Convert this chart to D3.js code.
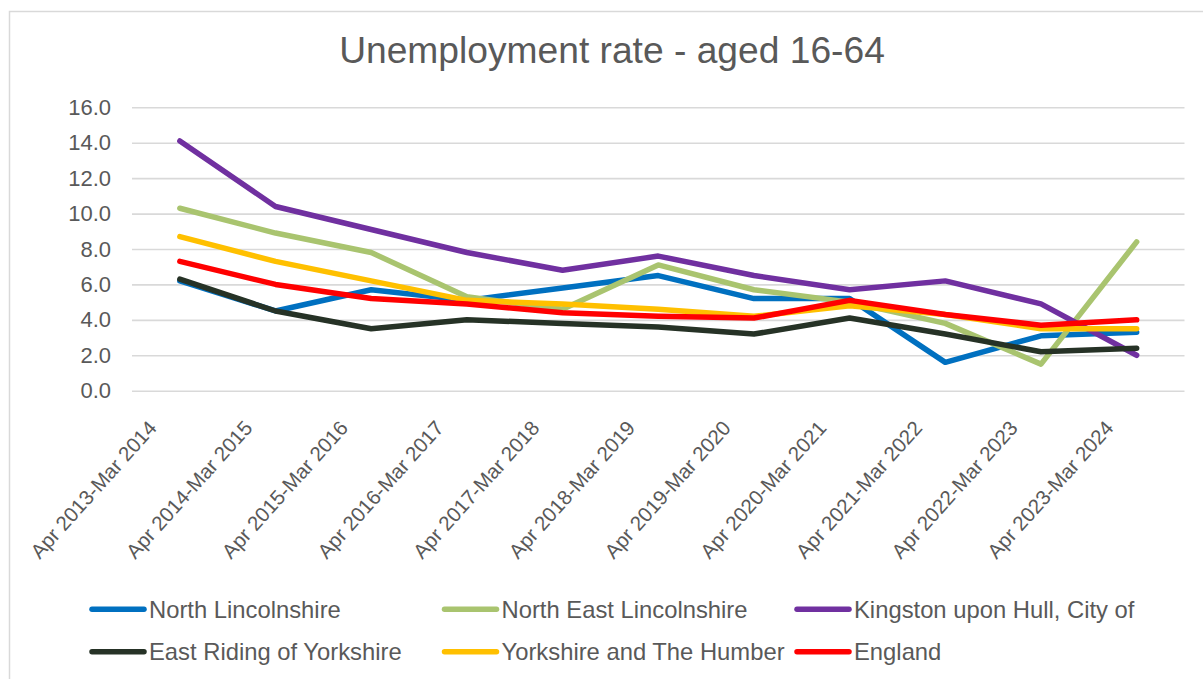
<!DOCTYPE html>
<html>
<head>
<meta charset="utf-8">
<script src="https://cdn.jsdelivr.net/npm/d3@7"></script>
<style>
  html, body { margin: 0; padding: 0; background: #ffffff; }
  svg { display: block; font-family: "Liberation Sans", Arial, sans-serif; }
</style>
</head>
<body>
<svg id="chart" width="1203" height="679"></svg>
<script>
// Periods (x categories)
const periods = [
  "Apr 2013-Mar 2014", "Apr 2014-Mar 2015", "Apr 2015-Mar 2016", "Apr 2016-Mar 2017",
  "Apr 2017-Mar 2018", "Apr 2018-Mar 2019", "Apr 2019-Mar 2020", "Apr 2020-Mar 2021",
  "Apr 2021-Mar 2022", "Apr 2022-Mar 2023", "Apr 2023-Mar 2024"
];

// Unemployment rate (%) aged 16-64, by area
const northLincolnshire    = [6.2, 4.5, 5.7, 5.1, 5.8, 6.5, 5.2, 5.2, 1.6, 3.1, 3.3];
const northEastLincolnshire = [10.3, 8.9, 7.8, 5.3, 4.6, 7.1, 5.7, 5.0, 3.8, 1.5, 8.4];
const kingstonUponHull     = [14.1, 10.4, 9.1, 7.8, 6.8, 7.6, 6.5, 5.7, 6.2, 4.9, 2.0];
const eastRiding           = [6.3, 4.5, 3.5, 4.0, 3.8, 3.6, 3.2, 4.1, 3.2, 2.2, 2.4];
const yorkshireHumber      = [8.7, 7.3, 6.2, 5.1, 4.9, 4.6, 4.2, 4.8, 4.3, 3.5, 3.5];
const england              = [7.3, 6.0, 5.2, 4.9, 4.4, 4.2, 4.1, 5.1, 4.3, 3.7, 4.0];

const seriesNames = [
  "North Lincolnshire", "North East Lincolnshire", "Kingston upon Hull, City of",
  "East Riding of Yorkshire", "Yorkshire and The Humber", "England"
];
const seriesColors = ["#0070C0", "#A9C46F", "#7030A0", "#263226", "#FFC000", "#FF0000"];
const seriesValues = [northLincolnshire, northEastLincolnshire, kingstonUponHull,
                      eastRiding, yorkshireHumber, england];

const yTicks = [0, 2, 4, 6, 8, 10, 12, 14, 16];
const titleText = "Unemployment rate - aged 16-64";

const textColor = "#595959";
const gridColor = "#d9d9d9";

const svg = d3.select("#chart");

// chart frame
svg.append("rect")
  .attr("x", 9.5).attr("y", 11.5)
  .attr("width", 1220).attr("height", 700)
  .attr("fill", "#ffffff")
  .attr("stroke", gridColor).attr("stroke-width", 1.5);

// plot area
const plot = { left: 132, right: 1184.5, top: 107.3, bottom: 390.7 };

const x = d3.scaleBand().domain(periods).range([plot.left, plot.right]).padding(0);
const xc = d => x(d) + x.bandwidth() / 2;
const y = d3.scaleLinear().domain([0, 16]).range([plot.bottom, plot.top]);

// title
svg.append("text")
  .attr("x", 612).attr("y", 63)
  .attr("text-anchor", "middle")
  .attr("fill", textColor)
  .attr("font-size", 37.2)
  .text(titleText);

// horizontal gridlines + y labels
const yAxis = d3.axisLeft(y)
  .tickValues(yTicks)
  .tickSize(-(plot.right - plot.left))
  .tickPadding(21)
  .tickFormat(d3.format(".1f"));

const gy = svg.append("g")
  .attr("transform", `translate(${plot.left},0)`)
  .call(yAxis);
gy.select(".domain").remove();
gy.selectAll(".tick line").attr("stroke", gridColor).attr("stroke-width", 1.6);
gy.selectAll(".tick text")
  .attr("fill", textColor)
  .attr("font-size", 22)
  .attr("font-family", "Liberation Sans, Arial, sans-serif");

// x labels, rotated
const xAxis = d3.axisBottom(x).tickSize(0).tickPadding(0);
const gx = svg.append("g")
  .attr("transform", `translate(0,${plot.bottom})`)
  .call(xAxis);
gx.select(".domain").remove();
gx.selectAll(".tick text")
  .attr("fill", textColor)
  .attr("font-size", 20.5)
  .attr("font-family", "Liberation Sans, Arial, sans-serif")
  .attr("text-anchor", "end")
  .attr("dy", null)
  .attr("y", 0)
  .attr("transform", "translate(-22,38) rotate(-48)");

// series lines
const line = d3.line()
  .x((d, i) => xc(periods[i]))
  .y(d => y(d));

seriesValues.forEach((vals, k) => {
  svg.append("path")
    .datum(vals)
    .attr("d", line)
    .attr("fill", "none")
    .attr("stroke", seriesColors[k])
    .attr("stroke-width", 5.5)
    .attr("stroke-linejoin", "round")
    .attr("stroke-linecap", "round");
});

// legend: two rows of three
const legendCols = [90, 442.5, 795];
const legendRows = [609.3, 651.7];
seriesNames.forEach((name, k) => {
  const lx = legendCols[k % 3];
  const ly = legendRows[Math.floor(k / 3)];
  const g = svg.append("g");
  g.append("line")
    .attr("x1", lx + 2).attr("x2", lx + 54)
    .attr("y1", ly).attr("y2", ly)
    .attr("stroke", seriesColors[k])
    .attr("stroke-width", 5.5)
    .attr("stroke-linecap", "round");
  g.append("text")
    .attr("x", lx + 59).attr("y", ly)
    .attr("dy", "0.35em")
    .attr("fill", textColor)
    .attr("font-size", 23.8)
    .text(name);
});
</script>
</body>
</html>
